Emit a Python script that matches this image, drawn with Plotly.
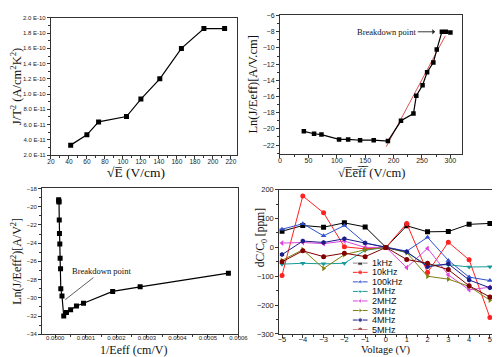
import plotly.graph_objects as go

# ---------------- data ----------------
# Panel a: J/T^2 vs sqrt(E)
sqrtE = [42, 60, 73, 104, 120, 141, 165, 190, 213]
JT2 = [3.3e-11, 4.65e-11, 6.35e-11, 7.05e-11, 9.35e-11, 1.2e-10, 1.6e-10, 1.86e-10, 1.86e-10]
JT2_ticks = [2e-11, 4e-11, 6e-11, 8e-11, 1e-10, 1.2e-10, 1.4e-10, 1.6e-10, 1.8e-10, 2e-10]
JT2_ticktext = ["2.0 E-11", "4.0 E-11", "6.0 E-11", "8.0 E-11", "1.0 E-10",
                "1.2 E-10", "1.4 E-10", "1.6 E-10", "1.8 E-10", "2.0 E-10"]

# Panel b: Ln(J/Eeff) vs sqrt(Eeff)
sqrtEeff = [42, 60, 73, 104, 120, 141, 165, 190, 213, 235, 240, 251, 259, 270, 276, 285, 292, 300]
lnJE = [-20.3, -20.6, -20.7, -21.3, -21.3, -21.4, -21.4, -21.5, -19.0, -18.1,
        -15.9, -14.6, -13.0, -11.8, -10.2, -8.0, -8.0, -8.1]
fit_x = [187, 291]
fit_y = [-22.2, -8.5]

# Panel c: Ln(J/Eeff^2) vs 1/Eeff
invEeff = [0.0000111, 0.0000117, 0.0000123, 0.0000131, 0.0000137, 0.0000149, 0.0000159,
           0.0000174, 0.0000181, 0.000022, 0.0000277, 0.0000367, 0.0000503, 0.0000694,
           0.0000925, 0.000188, 0.000278, 0.000567]
lnJE2 = [-19.25, -19.4, -19.5, -21.45, -22.95, -24.1, -25.65, -26.8, -29.0, -29.8,
         -32.0, -31.6, -31.3, -30.9, -30.6, -29.3, -28.8, -27.3]

# Panel d: dC/C0 vs voltage
voltage = [-5, -4, -3, -2, -1, 0, 1, 2, 3, 4, 5]
series_names = ["1kHz", "10kHz", "100kHz", "1MHz", "2MHZ", "3MHz", "4MHz", "5MHz"]
s_1kHz = [56, 76, 70, 85, 71, 0, 75, 54, 55, 80, 83]
s_10kHz = [-97, 178, 120, 2, -5, 0, 83, -87, 18, -43, -243]
s_100kHz = [63, 82, 40, 76, 15, 0, -13, 35, -45, -103, -115]
s_1MHz = [-58, -55, -57, -55, -10, 0, -18, -62, -60, -68, -67]
s_2MHz = [15, 17, 13, 22, 0, 0, -70, -3, -95, -147, -138]
s_3MHz = [-45, -8, -73, -25, -8, 0, -18, -100, -110, -135, -183]
s_4MHz = [-25, 22, 17, 30, 15, 0, -15, -67, -57, -113, -140]
s_5MHz = [-50, -12, -32, -20, -32, 0, -42, -55, -77, -133, -172]
series_values = [s_1kHz, s_10kHz, s_100kHz, s_1MHz, s_2MHz, s_3MHz, s_4MHz, s_5MHz]

# ---------------- styles ----------------
colors = ["#000000", "#ff2020", "#3050d0", "#189a9a", "#dd44dd", "#808010", "#1c1c88", "#800000"]
symbols = ["square", "circle", "triangle-up", "triangle-down", "triangle-left",
           "triangle-right", "hexagon", "circle"]

SERIF = "Liberation Serif, Times New Roman, serif"
SANS = "Liberation Sans, Arial, sans-serif"
OL = "\u0305"  # combining overline

fig = go.Figure()

fig.add_trace(go.Scatter(x=sqrtE, y=JT2, mode="lines+markers", xaxis="x", yaxis="y",
                         line=dict(color="black", width=1.2),
                         marker=dict(symbol="square", size=5, color="black"), showlegend=False))

fig.add_trace(go.Scatter(x=fit_x, y=fit_y, mode="lines", xaxis="x2", yaxis="y2",
                         line=dict(color="#e05050", width=1), showlegend=False))
fig.add_trace(go.Scatter(x=sqrtEeff, y=lnJE, mode="lines+markers", xaxis="x2", yaxis="y2",
                         line=dict(color="black", width=1.2),
                         marker=dict(symbol="square", size=4.5, color="black"), showlegend=False))

fig.add_trace(go.Scatter(x=invEeff, y=lnJE2, mode="lines+markers", xaxis="x3", yaxis="y3",
                         line=dict(color="black", width=1.2),
                         marker=dict(symbol="square", size=5, color="black"), showlegend=False))

for name, vals, c, s in zip(series_names, series_values, colors, symbols):
    fig.add_trace(go.Scatter(x=voltage, y=vals, mode="lines+markers", xaxis="x4", yaxis="y4",
                             name=name, line=dict(color=c, width=1),
                             marker=dict(symbol=s, size=5, color=c), showlegend=False))

# hand-made compact legend (glyphs on an auxiliary axis)
LEG_TOP, LEG_BOT = 0.2793, 0.0874
for i, (name, c, s) in enumerate(zip(series_names, colors, symbols)):
    fig.add_trace(go.Scatter(x=[0, 1, 2], y=[i, i, i], mode="lines+markers", xaxis="x5", yaxis="y5",
                             line=dict(color=c, width=1),
                             marker=dict(symbol=s, size=[0, 5, 0], color=c),
                             showlegend=False, hoverinfo="skip"))

axis_common = dict(showline=True, linecolor="#333", linewidth=1, mirror=True,
                   ticks="outside", ticklen=3, tickcolor="#333", showgrid=False, zeroline=False)

def tf(size):
    return dict(family=SANS, size=size, color="#222")

def titlef(size):
    return dict(family=SERIF, size=size, color="#111")

fig.update_layout(
    width=500, height=357,
    margin=dict(l=0, r=0, t=0, b=0),
    paper_bgcolor="white", plot_bgcolor="white",
    xaxis=dict(domain=[0.08, 0.4634], anchor="y", range=[20, 227], tickvals=list(range(20, 221, 20)),
               tickfont=tf(6.5), ticklabelstandoff=-3,
               minor=dict(ticks="outside", ticklen=2, dtick=10, tickcolor="#333"), **axis_common),
    yaxis=dict(domain=[0.589, 0.983], anchor="x", range=[2e-11, 2e-10], tickvals=JT2_ticks,
               ticktext=JT2_ticktext, tickfont=tf(6),
               minor=dict(ticks="outside", ticklen=2, dtick=1e-11, tickcolor="#333"),
               title=dict(text="J/T<sup>2</sup> (A/cm<sup>2</sup>K<sup>2</sup>)", font=titlef(12.5), standoff=2),
               **axis_common),
    xaxis2=dict(domain=[0.5514, 0.9266], anchor="y2", range=[0, 321], tickvals=[0, 50, 100, 150, 200, 250, 300],
                tickfont=tf(7), ticklabelstandoff=-3,
                minor=dict(ticks="outside", ticklen=2, dtick=25, tickcolor="#333"), **axis_common),
    yaxis2=dict(domain=[0.592, 0.992], anchor="x2", range=[-23.1, -5.9], tickvals=list(range(-22, -5, 2)),
                tickfont=tf(7), minor=dict(ticks="outside", ticklen=2, dtick=1, tickcolor="#333"),
                title=dict(text="Ln(J/Eeff)[A/V.cm]", font=titlef(12.5), standoff=2), **axis_common),
    xaxis3=dict(domain=[0.062, 0.466], anchor="y3", range=[-0.000043, 0.0006],
                tickvals=[0, 0.0001, 0.0002, 0.0003, 0.0004, 0.0005, 0.0006],
                ticktext=["0.0000", "0.0001", "0.0002", "0.0003", "0.0004", "0.0005", "0.0006"],
                tickfont=tf(6), ticklabelstandoff=-5,
                minor=dict(ticks="outside", ticklen=2, dtick=0.00005, tickcolor="#333"), **axis_common),
    yaxis3=dict(domain=[0.074, 0.493], anchor="x3", range=[-34, -18], tickvals=list(range(-34, -17, 2)),
                tickfont=tf(6), minor=dict(ticks="outside", ticklen=2, dtick=1, tickcolor="#333"),
                title=dict(text="Ln(J/Eeff<sup>2</sup>)[A/V<sup>2</sup>]", font=titlef(12), standoff=2),
                **axis_common),
    xaxis4=dict(domain=[0.55, 0.9966], anchor="y4", range=[-5.13, 5.31], tickvals=voltage,
                tickfont=tf(7.5), ticklabelstandoff=-5,
                minor=dict(ticks="outside", ticklen=2, dtick=0.5, tickcolor="#333"), **axis_common),
    yaxis4=dict(domain=[0.0748, 0.4894], anchor="x4", range=[-300, 200],
                tickvals=[-300, -200, -100, 0, 100, 200], tickfont=tf(7.5),
                minor=dict(ticks="outside", ticklen=2, dtick=50, tickcolor="#333"), **axis_common),
    xaxis5=dict(domain=[0.701, 0.732], anchor="y5", range=[0, 2], visible=False, fixedrange=True),
    yaxis5=dict(domain=[LEG_BOT, LEG_TOP], anchor="x5", range=[7, 0], visible=False, fixedrange=True),
)

# axis titles placed as in the reference
def title_ann(text, x, y, size, angle=0):
    fig.add_annotation(x=x, y=y, xref="paper", yref="paper", text=text, textangle=angle,
                       showarrow=False, xanchor="center", yanchor="middle", borderpad=0,
                       font=titlef(size))

title_ann("√E" + OL + " (V/cm)", 0.256, 0.538, 13.5)
title_ann("√E" + OL + "e" + OL + "f" + OL + "f" + OL + " (V/cm)", 0.74, 0.538, 12.5)
title_ann("1/Eeff (cm/V)", 0.25, 0.03, 12)
title_ann("Voltage (V)", 0.77, 0.028, 10.5)
title_ann("dC/C<sub>0</sub> [ppm]", 0.512, 0.352, 11.5, angle=-90)

# legend texts
for i, name in enumerate(series_names):
    fig.add_annotation(x=0.739, xref="paper", y=LEG_TOP - i * (LEG_TOP - LEG_BOT) / 7, yref="paper",
                       text=name, showarrow=False, borderpad=0,
                       xanchor="left", yanchor="middle", font=dict(family=SANS, size=9, color="#111"))

# Breakdown point annotations
fig.add_annotation(x=273, y=-8, xref="x2", yref="y2", ax=188, ay=-8, axref="x2", ayref="y2",
                   text="Breakdown point", showarrow=True, arrowhead=1, arrowsize=1, arrowwidth=0.9,
                   arrowcolor="#222", font=dict(family=SERIF, size=8.5, color="#111"))
fig.add_annotation(x=0.000033, y=-30.2, xref="x3", yref="y3", ax=0.000152, ay=-27.07,
                   axref="x3", ayref="y3", text="Breakdown point", showarrow=True, arrowhead=0,
                   arrowwidth=0.8, arrowcolor="#333", font=dict(family=SERIF, size=8.5, color="#111"))

fig.write_html("out.html")
